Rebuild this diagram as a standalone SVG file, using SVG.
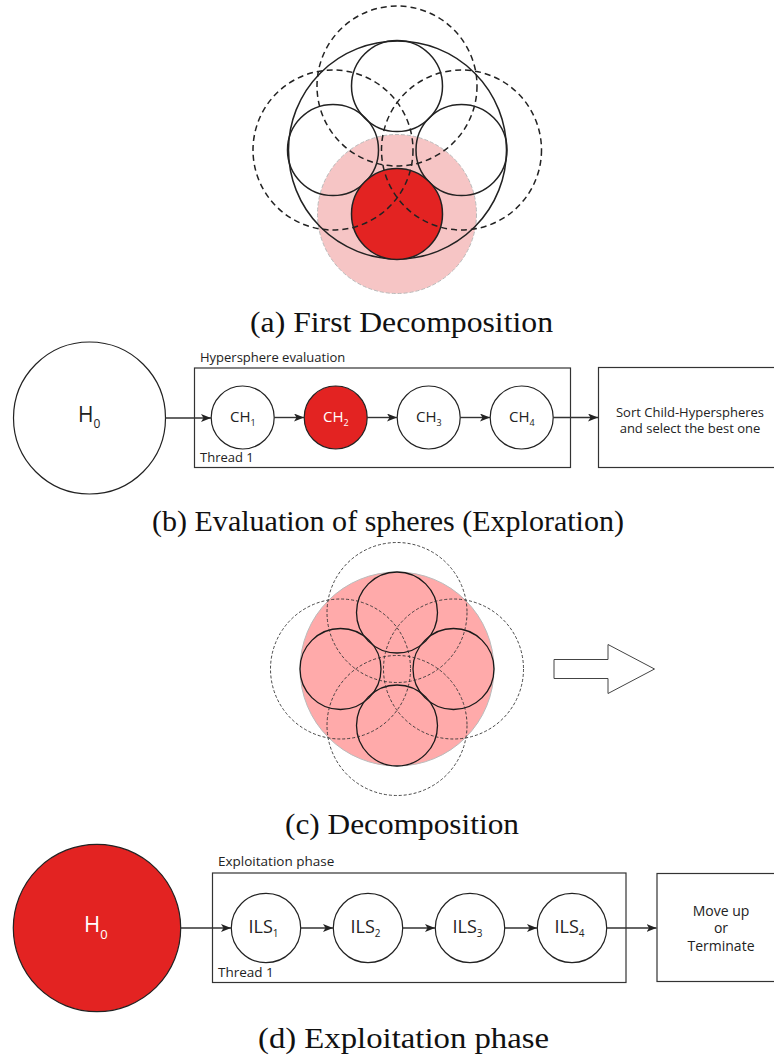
<svg xmlns="http://www.w3.org/2000/svg" width="774" height="1058" viewBox="0 0 774 1058">
<defs>
<style>
.cap{font-family:"Liberation Serif","Times New Roman",serif;font-size:29px;fill:#111;text-anchor:middle}
.sans{font-family:"Open Sans","Noto Sans",sans-serif;fill:#222}
.solid{fill:none;stroke:#222;stroke-width:1.5}
.dashA{fill:none;stroke:#222;stroke-width:1.5;stroke-dasharray:6 4}
.solidC{fill:none;stroke:#1a1a1a;stroke-width:1.3}
.dashC{fill:none;stroke:#333;stroke-width:0.9;stroke-dasharray:3 2}
.node{fill:#fff;stroke:#222;stroke-width:1.2}
.red{fill:#E32322;stroke:#222;stroke-width:1.2}
.box{fill:#fff;stroke:#333;stroke-width:1.2}
.conn{fill:none;stroke:#333;stroke-width:1.4}
</style>
<marker id="arr" markerUnits="userSpaceOnUse" markerWidth="11" markerHeight="9" refX="10" refY="4" orient="auto">
<path d="M0,0 L10,4 L0,8 L2.5,4 z" fill="#222"/>
</marker>
</defs>
<rect x="0" y="0" width="774" height="1058" fill="#fff"/>

<!-- (a) First Decomposition -->
<g id="fig-a">
<circle cx="397" cy="214" r="79.5" fill="#F6C5C5" stroke="#bbb" stroke-width="1" stroke-dasharray="4 2"/>
<circle class="solid" cx="397.5" cy="150" r="109"/>
<circle class="solid" cx="397" cy="86" r="45.5"/>
<circle class="solid" cx="333" cy="150" r="45.5"/>
<circle class="solid" cx="461.5" cy="150" r="45.5"/>
<circle cx="397" cy="214" r="45.5" fill="#E32322" stroke="#222" stroke-width="1.5"/>
<circle class="dashA" cx="397" cy="86" r="80"/>
<circle class="dashA" cx="333" cy="150" r="80"/>
<circle class="dashA" cx="461.5" cy="150" r="80"/>
<text class="cap" x="401.5" y="332" textLength="303" lengthAdjust="spacingAndGlyphs">(a) First Decomposition</text>
</g>

<!-- (b) Evaluation of spheres -->
<g id="b-H0">
<circle class="node" cx="89.5" cy="418" r="76"/>
<text class="sans" x="78" y="422" font-size="21">H<tspan font-size="12" dy="6">0</tspan></text>
</g>
<g id="b-thread">
<rect class="box" x="194.5" y="368" width="376" height="99.5"/>
<text class="sans" x="200" y="362" font-size="13">Hypersphere evaluation</text>
<text class="sans" x="200" y="461.5" font-size="13">Thread 1</text>
</g>
<g id="b-CH1">
<circle class="node" cx="242.7" cy="417.5" r="31.5"/>
<text class="sans" x="230" y="422" font-size="15">CH<tspan font-size="9" dy="4">1</tspan></text>
</g>
<g id="b-CH2">
<circle class="red" cx="335.7" cy="417.5" r="31.5"/>
<text class="sans" x="323" y="422" font-size="15" fill="#fff" style="fill:#fff">CH<tspan font-size="9" dy="4">2</tspan></text>
</g>
<g id="b-CH3">
<circle class="node" cx="428.7" cy="417.5" r="31.5"/>
<text class="sans" x="416" y="422" font-size="15">CH<tspan font-size="9" dy="4">3</tspan></text>
</g>
<g id="b-CH4">
<circle class="node" cx="521.7" cy="417.5" r="31.5"/>
<text class="sans" x="509" y="422" font-size="15">CH<tspan font-size="9" dy="4">4</tspan></text>
</g>
<g id="b-sort">
<rect class="box" x="598.5" y="367.5" width="200" height="100"/>
<text class="sans" x="690" y="416.5" font-size="13" text-anchor="middle">Sort Child-Hyperspheres</text>
<text class="sans" x="690" y="433" font-size="13" text-anchor="middle">and select the best one</text>
</g>
<text class="cap" x="388" y="531" textLength="472" lengthAdjust="spacingAndGlyphs">(b) Evaluation of spheres (Exploration)</text>

<!-- (c) Decomposition -->
<g id="fig-c">
<circle cx="397" cy="669" r="97" fill="#FFAAAA" stroke="#bbb" stroke-width="1"/>
<circle class="solidC" cx="397" cy="612.5" r="40.5"/>
<circle class="solidC" cx="340.5" cy="669" r="40.5"/>
<circle class="solidC" cx="453.5" cy="669" r="40.5"/>
<circle class="solidC" cx="397" cy="725.5" r="40.5"/>
<circle class="dashC" cx="397" cy="612.5" r="70"/>
<circle class="dashC" cx="340.5" cy="669" r="70"/>
<circle class="dashC" cx="453.5" cy="669" r="70"/>
<circle class="dashC" cx="397" cy="725.5" r="70"/>
<polygon points="554,659.5 608,659.5 608,644.5 654.5,669 608,693.5 608,678.5 554,678.5" fill="#fff" stroke="#444" stroke-width="1" stroke-linejoin="round"/>
<text class="cap" x="402" y="834" textLength="234" lengthAdjust="spacingAndGlyphs">(c) Decomposition</text>
</g>

<!-- (d) Exploitation phase -->
<g id="d-H0">
<circle class="red" cx="97" cy="928" r="83.7"/>
<text class="sans" x="84" y="932" font-size="22" style="fill:#fff">H<tspan font-size="13" dy="7">0</tspan></text>
</g>
<g id="d-thread">
<rect class="box" x="212.5" y="873" width="413.5" height="109.5"/>
<text class="sans" x="218" y="866" font-size="13.5">Exploitation phase</text>
<text class="sans" x="218" y="976.5" font-size="13.5">Thread 1</text>
</g>
<g id="d-ILS1">
<circle class="node" cx="266" cy="928" r="34.7"/>
<text class="sans" x="248.5" y="932.5" font-size="18">ILS<tspan font-size="10" dy="4">1</tspan></text>
</g>
<g id="d-ILS2">
<circle class="node" cx="368" cy="928" r="34.7"/>
<text class="sans" x="350.5" y="932.5" font-size="18">ILS<tspan font-size="10" dy="4">2</tspan></text>
</g>
<g id="d-ILS3">
<circle class="node" cx="470" cy="928" r="34.7"/>
<text class="sans" x="452.5" y="932.5" font-size="18">ILS<tspan font-size="10" dy="4">3</tspan></text>
</g>
<g id="d-ILS4">
<circle class="node" cx="572" cy="928" r="34.7"/>
<text class="sans" x="554.5" y="932.5" font-size="18">ILS<tspan font-size="10" dy="4">4</tspan></text>
</g>
<g id="d-move">
<rect class="box" x="657" y="873.5" width="200" height="108"/>
<text class="sans" x="721" y="915.5" font-size="14" text-anchor="middle">Move up</text>
<text class="sans" x="721" y="933" font-size="14" text-anchor="middle">or</text>
<text class="sans" x="721" y="950.5" font-size="14" text-anchor="middle">Terminate</text>
</g>
<text class="cap" x="403.5" y="1048" textLength="291" lengthAdjust="spacingAndGlyphs">(d) Exploitation phase</text>

<g id="connectors">
<line class="conn" x1="165.5" y1="418" x2="211" y2="418" marker-end="url(#arr)"/>
<line class="conn" x1="274.2" y1="417.5" x2="304" y2="417.5" marker-end="url(#arr)"/>
<line class="conn" x1="367.2" y1="417.5" x2="397" y2="417.5" marker-end="url(#arr)"/>
<line class="conn" x1="460.2" y1="417.5" x2="490" y2="417.5" marker-end="url(#arr)"/>
<line class="conn" x1="553.2" y1="417.5" x2="598" y2="417.5" marker-end="url(#arr)"/>
<line class="conn" x1="180.7" y1="928" x2="231" y2="928" marker-end="url(#arr)"/>
<line class="conn" x1="300.7" y1="928" x2="333" y2="928" marker-end="url(#arr)"/>
<line class="conn" x1="402.7" y1="928" x2="435" y2="928" marker-end="url(#arr)"/>
<line class="conn" x1="504.7" y1="928" x2="537" y2="928" marker-end="url(#arr)"/>
<line class="conn" x1="606.7" y1="928" x2="656.5" y2="928" marker-end="url(#arr)"/>
</g>
</svg>
